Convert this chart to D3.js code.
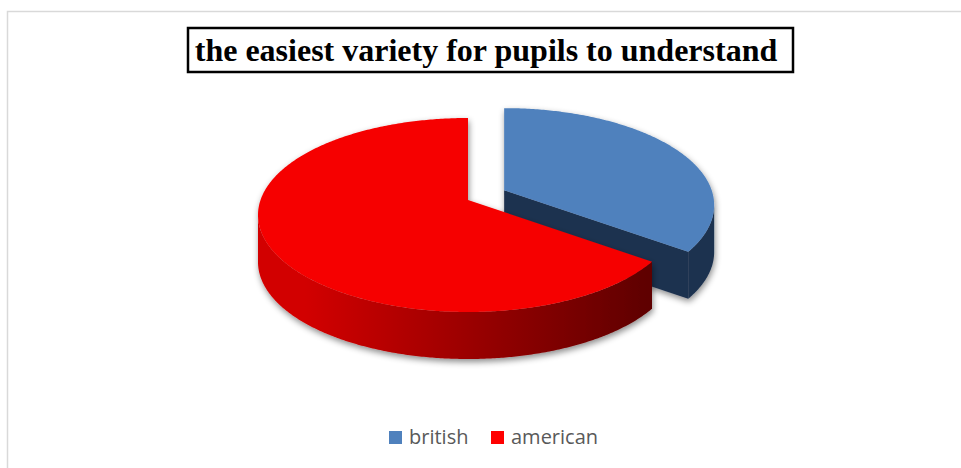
<!DOCTYPE html>
<html><head><meta charset="utf-8">
<script src="https://cdn.jsdelivr.net/npm/d3@7"></script>
<style>body{margin:0;background:#fff}svg{display:block}</style>
</head><body>
<svg id="chart" width="961" height="468"></svg>
<script>
// Survey answers
const categories = ["british", "american"];
const values = [33, 67];
const topColors = ["#4F81BD", "#F60000"];
const legendColors = ["#4F81BD", "#FF0000"];
const titleText = "the easiest variety for pupils to understand";

const W = 961, H = 468;
const svg = d3.select("#chart");
const defs = svg.append("defs");

// chart frame
svg.append("rect").attr("x", 7.5).attr("y", 11.5).attr("width", W).attr("height", H)
  .attr("fill", "#fff").attr("stroke", "#D9D9D9").attr("stroke-width", 1.5);

// title in a framed box
const titleG = svg.append("g");
titleG.append("rect").attr("x", 188).attr("y", 28).attr("width", 605).attr("height", 44)
  .attr("fill", "#fff").attr("stroke", "#000").attr("stroke-width", 2.5);
titleG.append("text").attr("x", 486).attr("y", 61).attr("text-anchor", "middle")
  .attr("font-family", "'Liberation Serif', 'Times New Roman', serif")
  .attr("font-weight", "bold").attr("font-size", 32).attr("fill", "#000")
  .text(titleText);

// soft shadow under the disc
const sh = defs.append("filter").attr("id", "shadow")
  .attr("x", "-10%").attr("y", "-10%").attr("width", "120%").attr("height", "130%");
sh.append("feDropShadow").attr("dx", 1).attr("dy", 3).attr("stdDeviation", 3)
  .attr("flood-color", "#000").attr("flood-opacity", 0.45);

// side wall shading
const redSide = defs.append("linearGradient").attr("id", "redSide")
  .attr("gradientUnits", "userSpaceOnUse").attr("x1", 258).attr("x2", 650).attr("y1", 0).attr("y2", 0);
redSide.append("stop").attr("offset", 0).attr("stop-color", "#D20000");
redSide.append("stop").attr("offset", 0.12).attr("stop-color", "#D20000");
redSide.append("stop").attr("offset", 1).attr("stop-color", "#5E0000");
const sideFill = ["#1F3350", "url(#redSide)"];

// projected disc geometry
const cx = 468, cy = 215, rx = 210, ry = 97, depth = 47, apexLift = 15;
const explode = [0.2, 0];

const arcs = d3.pie().sort(null).value(d => d)(values);
const line = d3.line();

function rim(a, ox, oy, z) {
  return [cx + ox + rx * Math.sin(a), cy + oy - ry * Math.cos(a) + z];
}
function samples(a0, a1, ox, oy, z) {
  const n = Math.max(2, Math.ceil(Math.abs(a1 - a0) / 0.01));
  return d3.range(n + 1).map(i => rim(a0 + (a1 - a0) * i / n, ox, oy, z));
}

const slices = arcs.map((d, i) => {
  const mid = (d.startAngle + d.endAngle) / 2;
  const ox = explode[i] * rx * Math.sin(mid);
  const oy = -explode[i] * ry * Math.cos(mid);
  return { d, i, ox, oy, apex: [cx + ox, cy + oy - apexLift] };
});

function drawSlice(s) {
  const g = svg.append("g").attr("filter", "url(#shadow)");
  const { d, i, ox, oy, apex } = s;
  // radial cut face at the closing edge, seen from the front
  const endA = d.endAngle;
  if (endA < Math.PI) {
    const p = rim(endA, ox, oy, 0);
    g.append("path").attr("fill", "#1F3350")
      .attr("d", line([apex, p, [p[0], p[1] + depth], [apex[0], apex[1] + depth]]) + "Z");
  }
  // outer wall, front half only
  const s0 = Math.max(d.startAngle, Math.PI / 2), s1 = Math.min(d.endAngle, 3 * Math.PI / 2);
  if (s1 > s0) {
    const topE = samples(s0, s1, ox, oy, 0);
    const botE = samples(s1, s0, ox, oy, depth);
    g.append("path").attr("fill", sideFill[i]).attr("d", line(topE.concat(botE)) + "Z");
  }
  // top face
  g.append("path").attr("fill", topColors[i])
    .attr("d", line([apex].concat(samples(d.startAngle, d.endAngle, ox, oy, 0))) + "Z");
}
slices.forEach(drawSlice);

// legend
const legend = svg.append("g");
const legendX = [389, 491];
categories.forEach((c, i) => {
  legend.append("rect").attr("x", legendX[i]).attr("y", 431).attr("width", 13).attr("height", 13)
    .attr("fill", legendColors[i]);
  legend.append("text").attr("x", legendX[i] + 20).attr("y", 444)
    .attr("font-family", "'Open Sans', sans-serif").attr("font-size", 20).attr("fill", "#595959")
    .text(c);
});
</script>
</body></html>
